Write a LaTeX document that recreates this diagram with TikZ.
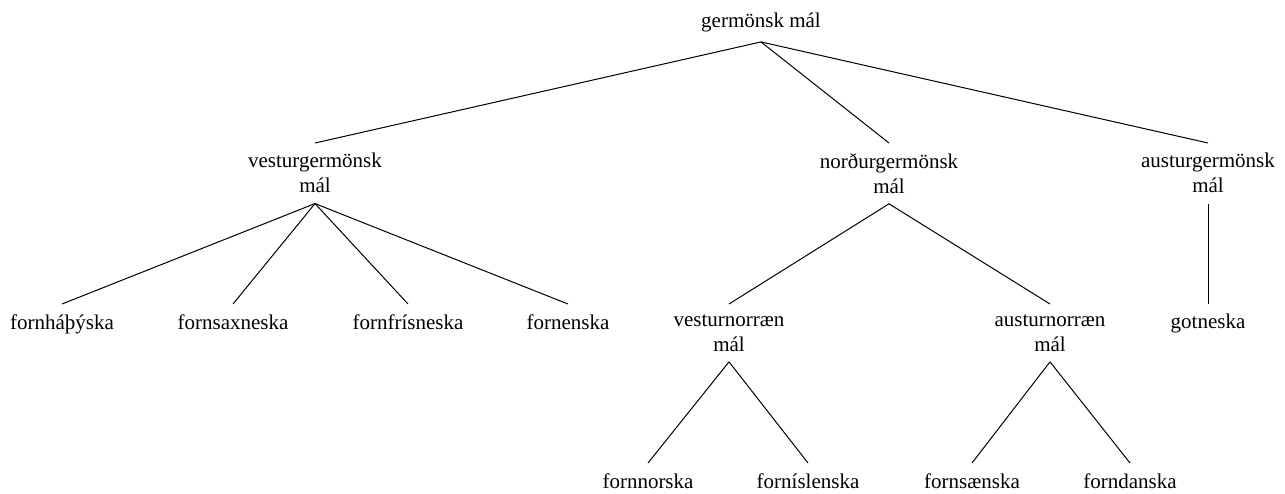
\documentclass[tikz,border=0pt]{standalone}
\usepackage{fontspec}
\setmainfont{Liberation Serif}
\begin{document}
\begin{tikzpicture}[x=0.5pt,y=-0.5pt,
  lang/.style={inner sep=5pt,align=center,font=\fontsize{10.5}{12.5}\selectfont},
  edge/.style={draw=black,line width=0.5pt}]
\useasboundingbox (0,0) rectangle (1285,493);
\node[lang,anchor=base] (root) at (761,27) {germönsk mál};
\node[lang,anchor=north] (vg) at (315,143) {vesturgermönsk\\mál};
\node[lang,anchor=north] (ng) at (889,143) {norðurgermönsk\\mál};
\node[lang,anchor=north] (ag) at (1208,143) {austurgermönsk\\mál};
\node[lang,anchor=north] (fh) at (62,304) {fornháþýska};
\node[lang,anchor=north] (fs) at (233,304) {fornsaxneska};
\node[lang,anchor=north] (ff) at (408,304) {fornfrísneska};
\node[lang,anchor=north] (fe) at (568,304) {fornenska};
\node[lang,anchor=north] (vn) at (729,304) {vesturnorræn\\mál};
\node[lang,anchor=north] (an) at (1050,304) {austurnorræn\\mál};
\node[lang,anchor=north] (go) at (1208,304) {gotneska};
\node[lang,anchor=north] (fn) at (648,463) {fornnorska};
\node[lang,anchor=north] (fi) at (808,463) {forníslenska};
\node[lang,anchor=north] (fsv) at (972,463) {fornsænska};
\node[lang,anchor=north] (fd) at (1130,463) {forndanska};
\draw[edge] (root.south) -- (vg.north);
\draw[edge] (root.south) -- (ng.north);
\draw[edge] (root.south) -- (ag.north);
\draw[edge] (vg.south) -- (fh.north);
\draw[edge] (vg.south) -- (fs.north);
\draw[edge] (vg.south) -- (ff.north);
\draw[edge] (vg.south) -- (fe.north);
\draw[edge] (ng.south) -- (vn.north);
\draw[edge] (ng.south) -- (an.north);
\draw[edge] (ag.south) -- (go.north);
\draw[edge] (vn.south) -- (fn.north);
\draw[edge] (vn.south) -- (fi.north);
\draw[edge] (an.south) -- (fsv.north);
\draw[edge] (an.south) -- (fd.north);
\end{tikzpicture}
\end{document}
